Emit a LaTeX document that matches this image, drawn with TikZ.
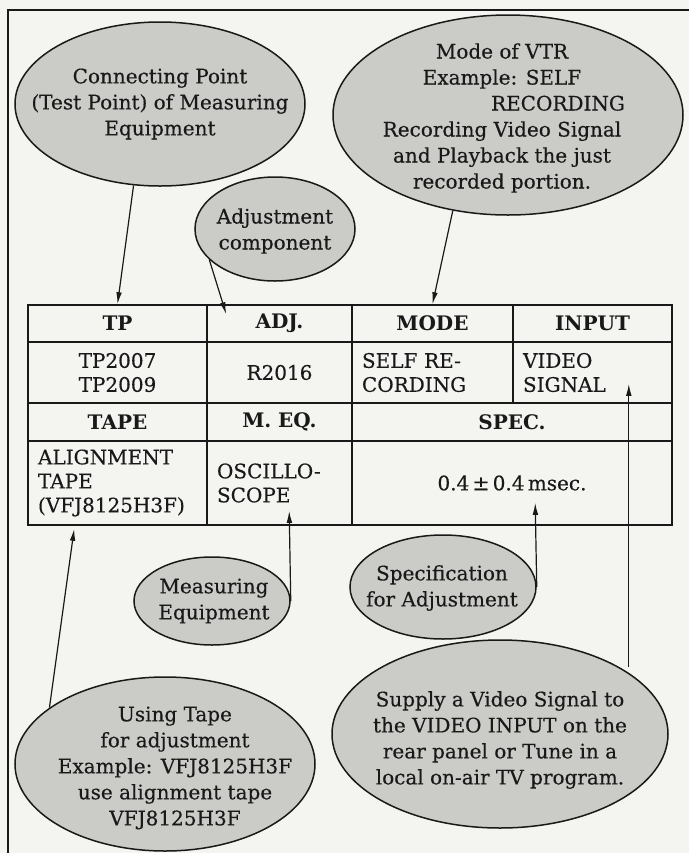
\documentclass[tikz,border=0pt]{standalone}
\usepackage{fontspec}
\setmainfont{DejaVu Serif}[UprightFeatures={FakeBold=0.35}]
\usetikzlibrary{shapes.geometric,arrows.meta,calc}

\definecolor{paper}{RGB}{244,244,241}
\definecolor{bubblegray}{RGB}{203,203,200}
\definecolor{ink}{RGB}{25,25,25}

\begin{document}
\begin{tikzpicture}[
  x=0.5pt, y=-0.5pt,
  bubble/.style 2 args={ellipse, draw=ink, line width=0.75pt, fill=bubblegray,
                        minimum width=#1, minimum height=#2, inner sep=0pt},
  btext/.style={align=center, text=ink, inner sep=0pt,
                font=\fontsize{10}{13}\selectfont},
  cell/.style n args={3}{draw=ink, line width=0.8pt, text width=#1, minimum height=#2,
                         align=#3, inner xsep=5pt, inner ysep=0pt, text=ink,
                         font=\fontsize{10}{12}\selectfont},
  head/.style={font=\fontsize{10}{12}\selectfont\bfseries},
  arr/.style={-{Latex[length=6pt,width=2.8pt]}, draw=ink, line width=0.6pt},
  frame/.style={draw=ink, line width=1.2pt}
]

\fill[paper] (0,0) rectangle (689,853);
\useasboundingbox (0,0) rectangle (689,853);
\draw[frame] (689,10) -- (8,10) -- (8,853);

% Table
\node[cell={79.5pt}{18.5pt}{center}, head] (hTP)    at (117.5,323.5) {TP};
\node[cell={62.5pt}{18.5pt}{center}, head] (hADJ)   at (279.5,323.5) {ADJ.};
\node[cell={70.5pt}{18.5pt}{center}, head] (hMODE)  at (432.5,323.5) {MODE};
\node[cell={69.5pt}{18.5pt}{center}, head] (hINPUT) at (592.5,323.5) {INPUT};

\node[cell={79.5pt}{30.5pt}{center}] (vTP)    at (117.5,372.5) {TP2007\\TP2009};
\node[cell={62.5pt}{30.5pt}{center}] (vADJ)   at (279.5,372.5) {R2016};
\node[cell={70.5pt}{30.5pt}{left}]   (vMODE)  at (432.5,372.5) {SELF RE-\\CORDING};
\node[cell={69.5pt}{30.5pt}{left}]   (vINPUT) at (592.5,372.5) {VIDEO\\SIGNAL};

\node[cell={79.5pt}{19pt}{center}, head] (hTAPE) at (117.5,422) {TAPE};
\node[cell={62.5pt}{19pt}{center}, head] (hMEQ)  at (279.5,422) {M. EQ.};
\node[cell={150pt}{19pt}{center}, head]  (hSPEC) at (512,422)   {SPEC.};

\node[cell={79.5pt}{42pt}{left}]  (vTAPE) at (117.5,483) {ALIGNMENT\\TAPE\\(VFJ8125H3F)};
\node[cell={62.5pt}{42pt}{left}]  (vMEQ)  at (279.5,483) {OSCILLO-\\SCOPE};
\node[cell={150pt}{42pt}{center}] (vSPEC) at (512,483)   {0.4\,±\,0.4\,msec.};

% Bubbles
\node[bubble={145pt}{82pt}]  (bPoint) at (160,104) {};
\node[btext] (tPoint) at (160,104) {Connecting Point\\(Test Point) of Measuring\\Equipment};
\node[bubble={80pt}{52pt}]   (bAdj)   at (275,229) {};
\node[btext] (tAdj)   at (275,231) {Adjustment\\component};
\node[bubble={175pt}{100pt}] (bMode)  at (508,115) {};
\node[btext] (tMode)  at (502,118) {Mode of VTR\\Example: SELF\hspace*{35pt}\\\hspace*{56pt}RECORDING\\
  Recording Video Signal\\and Playback the just\\recorded portion.};
\node[bubble={150pt}{87pt}]  (bTape)  at (165,764) {};
\node[btext] (tTape)  at (175,768) {Using Tape\\for adjustment\\Example: VFJ8125H3F\\use alignment tape\\VFJ8125H3F};
\node[bubble={78pt}{44pt}]   (bMeq)   at (212,601) {};
\node[btext] (tMeq)   at (214,601) {Measuring\\Equipment};
\node[bubble={93pt}{52pt}]   (bSpec)  at (443,587) {};
\node[btext] (tSpec)  at (442,588) {Specification\\for Adjustment};
\node[bubble={168pt}{94pt}]  (bInput) at (500,734) {};
\node[btext] (tInput) at (500,740) {Supply a Video Signal to\\the VIDEO INPUT on the\\rear panel or Tune in a\\local on-air TV program.};

% Pointers into the table
\coordinate (aAdj)   at ($(hADJ.north west)+(20,10)$);
\coordinate (aTape)  at ($(vTAPE.south west)+(47,3)$);
\coordinate (aMeq)   at ($(vMEQ.south west)+(83,-15)$);
\coordinate (aSpec)  at ($(vSPEC.south west)+(184,-23)$);
\coordinate (aInput) at ($(vINPUT.south east)+(-44,-20)$);

\draw[arr] (bPoint.252) -- (hTP.north);
\draw[arr] (bAdj.205) -- (aAdj);
\draw[arr] (bMode.240) -- (hMODE.north);
\draw[arr] (bTape.154) -- (aTape);
\draw[arr] (bMeq.east) -- (aMeq);
\draw[arr] (bSpec.east) -- (aSpec);
\draw[arr] (aInput |- bInput.north east) -- (aInput);

\end{tikzpicture}
\end{document}
